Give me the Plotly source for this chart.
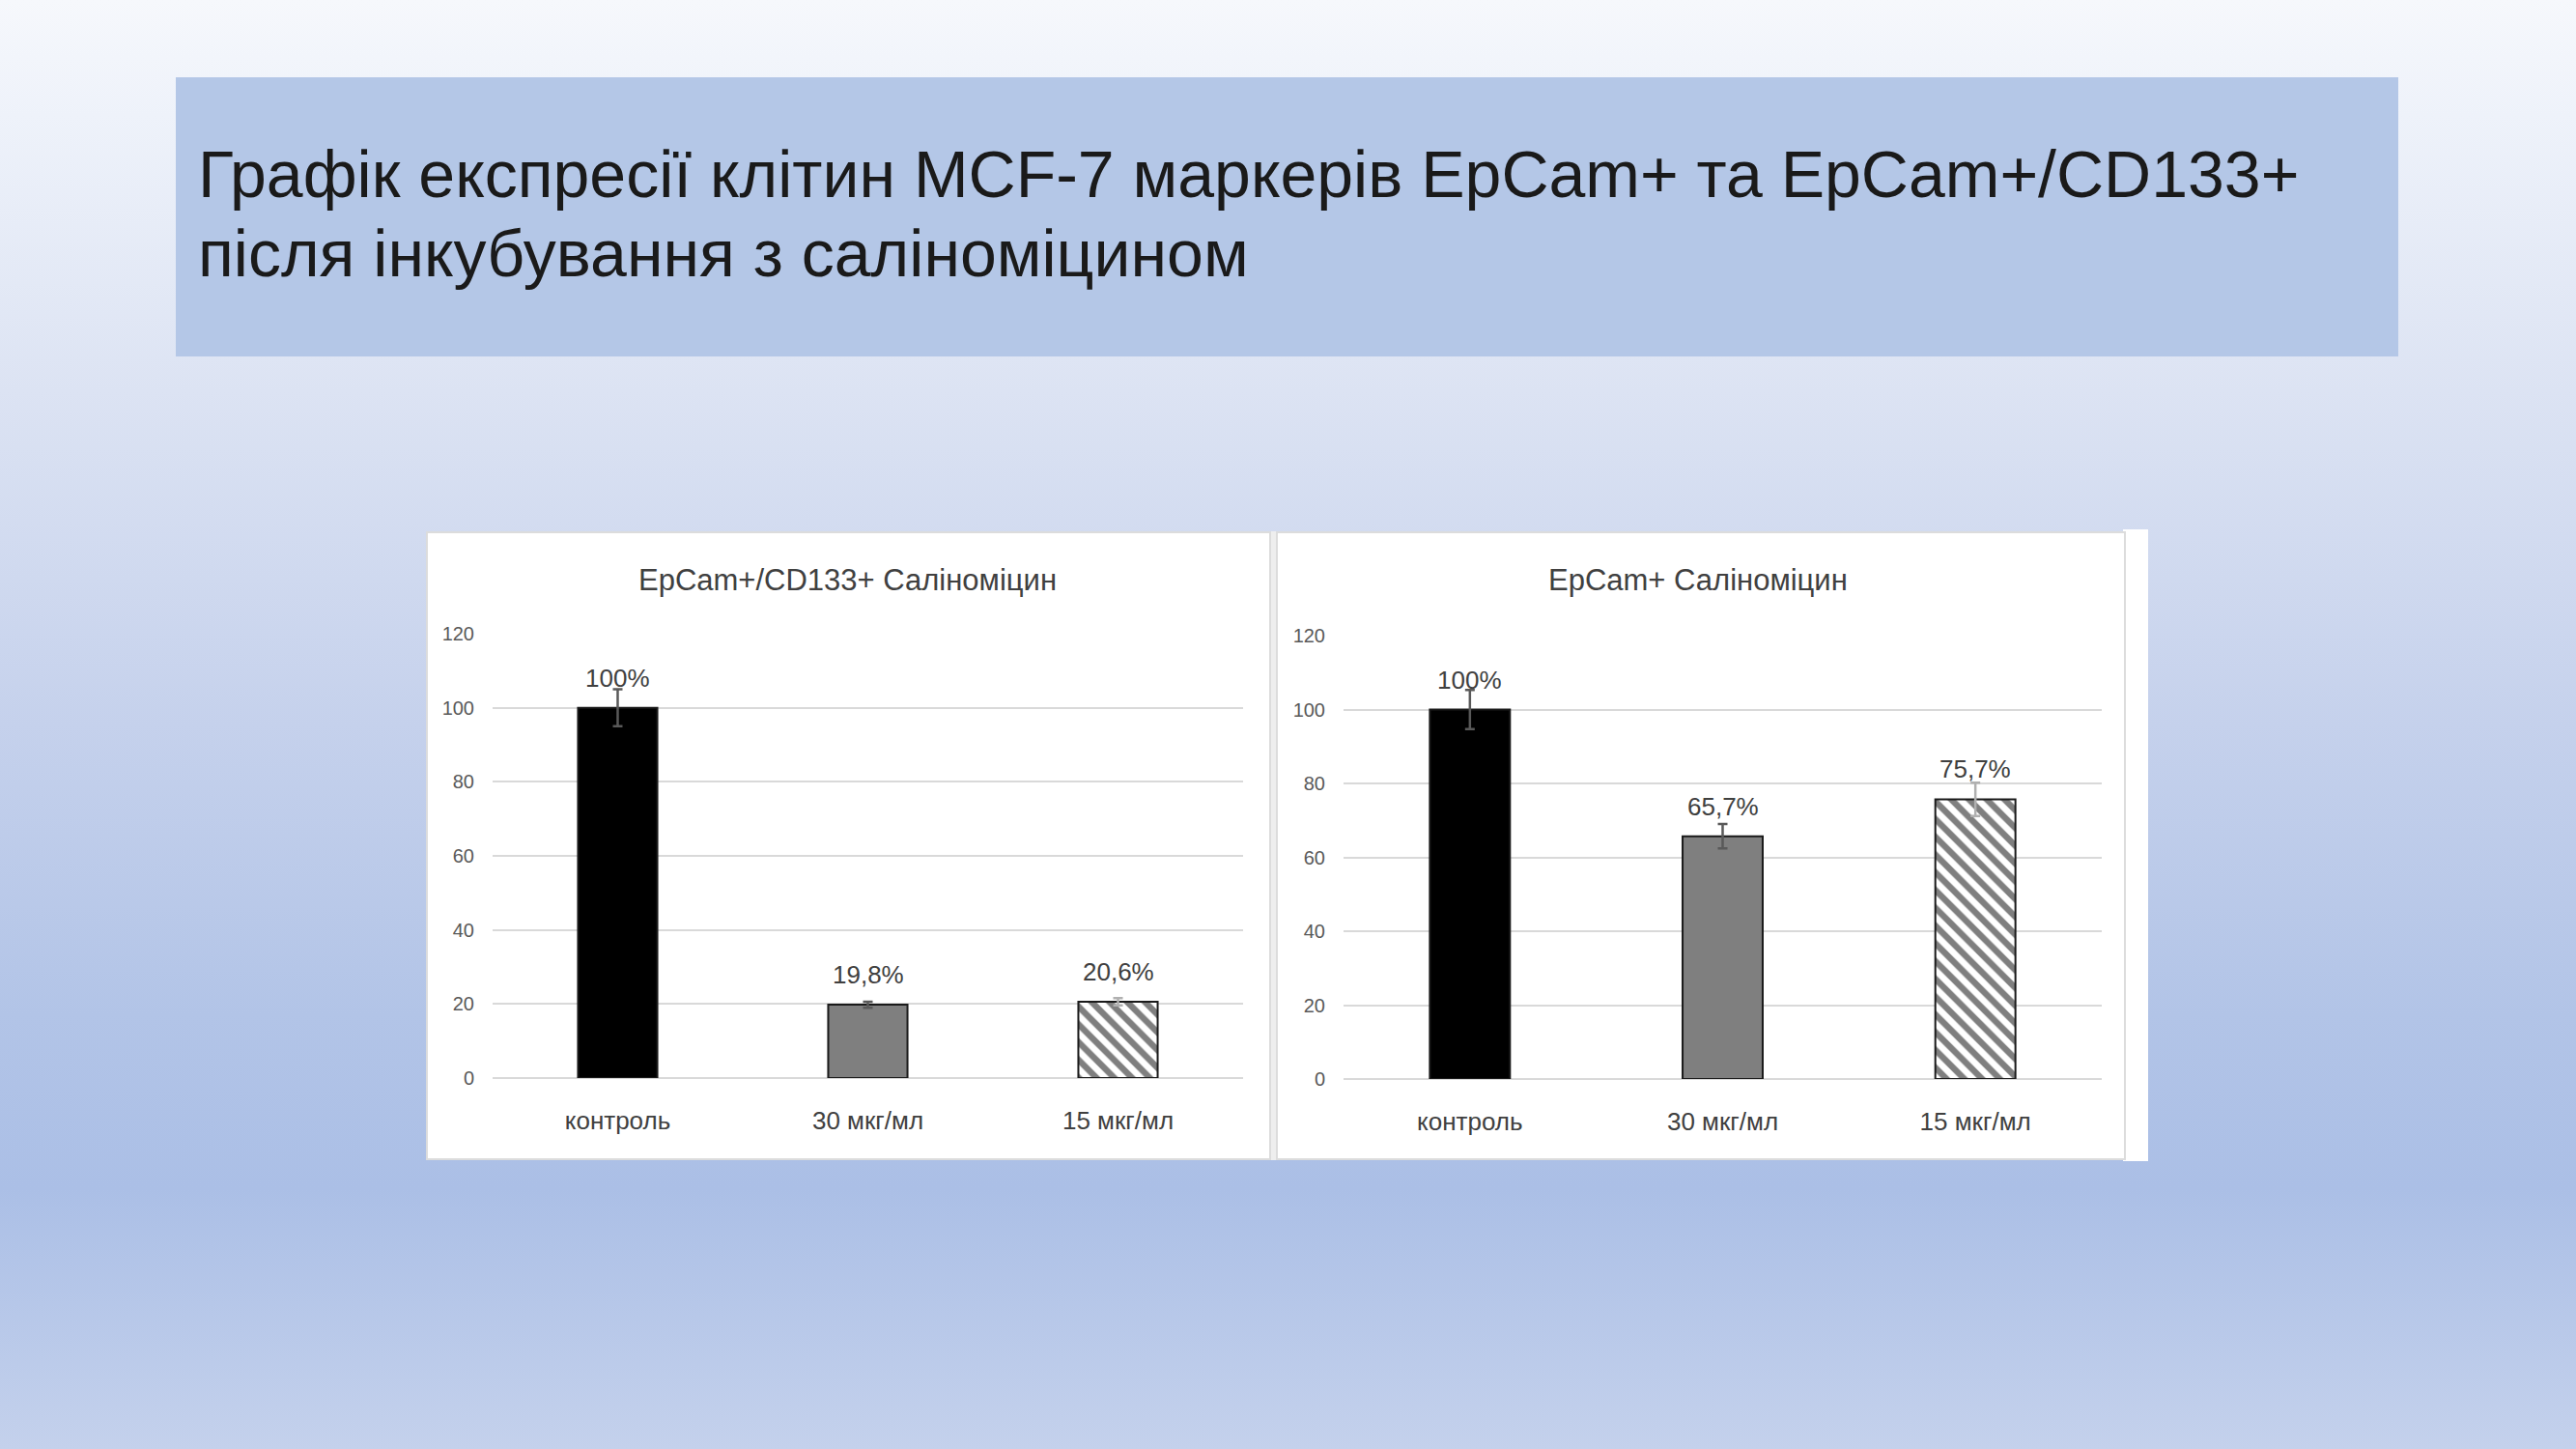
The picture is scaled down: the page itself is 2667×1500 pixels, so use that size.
from urllib.parse import quote

import plotly.graph_objects as go

# дані з графіків
categories = ["контроль", "30 мкг/мл", "15 мкг/мл"]
epcam_cd133_values = [100, 19.8, 20.6]
epcam_cd133_errors = [5.0, 0.8, 1.0]
epcam_cd133_labels = ["100%", "19,8%", "20,6%"]
epcam_values = [100, 65.7, 75.7]
epcam_errors = [5.3, 3.3, 4.5]
epcam_labels = ["100%", "65,7%", "75,7%"]
y_ticks = [0, 20, 40, 60, 80, 100, 120]

W, H = 2667, 1500
FONT = "Liberation Sans, Arial, sans-serif"


def px(x):
    return x / W


def py(y):
    return 1 - y / H


bar_fill = ["#000000", "#7f7f7f", "#ffffff"]
bar_shape = ["", "", "\\"]
err_color = ["#595959", "#595959", "#b0b0b0"]

fig = go.Figure()


def add_chart(values, errors, labels, xa, ya):
    for i in range(len(categories)):
        fig.add_trace(go.Bar(
            x=[categories[i]], y=[values[i]], xaxis=xa, yaxis=ya,
            width=0.317,
            marker=dict(color=bar_fill[i],
                        line=dict(color="#1a1a1a", width=2),
                        pattern=dict(shape=bar_shape[i], fgcolor="#000000",
                                     bgcolor=bar_fill[i], size=13, solidity=0.5)),
            error_y=dict(type="data", array=[errors[i]], color=err_color[i],
                         thickness=2.5, width=5),
            showlegend=False, hoverinfo="skip"))
        fig.add_annotation(x=categories[i], y=values[i], xref=xa, yref=ya,
                           text=labels[i], showarrow=False, yanchor="middle",
                           yshift=31, font=dict(family=FONT, size=26, color="#404040"))


add_chart(epcam_cd133_values, epcam_cd133_errors, epcam_cd133_labels, "x", "y")
add_chart(epcam_values, epcam_errors, epcam_labels, "x2", "y2")

xaxis_style = dict(type="category", range=[-0.5, 2.5], showgrid=False, zeroline=False,
                   showline=False, ticks="", ticklabelstandoff=26, automargin=False,
                   tickfont=dict(family=FONT, size=26, color="#404040"))
yaxis_style = dict(range=[0, 120], tickvals=y_ticks, showgrid=True, gridcolor="#d9d9d9",
                   gridwidth=2, zeroline=True, zerolinecolor="#d9d9d9", zerolinewidth=2,
                   showline=False, ticks="", ticklabelstandoff=18, automargin=False,
                   tickfont=dict(family=FONT, size=20, color="#595959"))

# фон слайда — вертикальний градієнт (svg, вбудований у сторінку)
stops = [(0.0, "rgb(246,248,252)"), (0.08, "rgb(238,242,250)"), (0.27, "rgb(220,227,243)"),
         (0.5, "rgb(197,209,236)"), (0.7, "rgb(178,196,231)"), (0.82, "rgb(171,191,230)"),
         (1.0, "rgb(196,209,236)")]
svg = ('<svg xmlns="http://www.w3.org/2000/svg" width="10" height="100" '
       'viewBox="0 0 10 100" preserveAspectRatio="none"><defs>'
       '<linearGradient id="g" x1="0" y1="0" x2="0" y2="1">'
       + "".join('<stop offset="%g" stop-color="%s"/>' % s for s in stops)
       + '</linearGradient></defs><rect width="10" height="100" fill="url(#g)"/></svg>')

fig.update_layout(
    width=W, height=H, margin=dict(l=0, r=0, t=0, b=0, autoexpand=False),
    paper_bgcolor="#f6f8fc", plot_bgcolor="rgba(0,0,0,0)",
    barmode="overlay",
    xaxis=dict(domain=[px(510), px(1287)], anchor="y", **xaxis_style),
    yaxis=dict(domain=[py(1116), py(656)], anchor="x", **yaxis_style),
    xaxis2=dict(domain=[px(1391), px(2176)], anchor="y2", **xaxis_style),
    yaxis2=dict(domain=[py(1117), py(658)], anchor="x2", **yaxis_style),
    images=[dict(source="data:image/svg+xml;charset=utf-8," + quote(svg),
                 xref="paper", yref="paper", x=0, y=1, sizex=1, sizey=1,
                 xanchor="left", yanchor="top", sizing="stretch", layer="below")],
)

# блок заголовка
fig.add_shape(type="rect", xref="paper", yref="paper", layer="below",
              x0=px(182), x1=px(2483), y0=py(369), y1=py(80),
              fillcolor="#b4c7e7", line_width=0)

# панелі діаграм
fig.add_shape(type="rect", xref="paper", yref="paper", layer="below",
              x0=px(1315), x1=px(1322), y0=py(1201), y1=py(550),
              fillcolor="#eeeeee", line_width=0)
fig.add_shape(type="rect", xref="paper", yref="paper", layer="below",
              x0=px(2198), x1=px(2224), y0=py(1202), y1=py(548),
              fillcolor="#ffffff", line_width=0)
for x0, x1 in [(442, 1315), (1322, 2200)]:
    fig.add_shape(type="rect", xref="paper", yref="paper", layer="below",
                  x0=px(x0), x1=px(x1), y0=py(1200), y1=py(551),
                  fillcolor="#ffffff", line=dict(color="#dcdcdc", width=2))

# заголовки
fig.add_annotation(xref="paper", yref="paper", x=px(203), y=py(180),
                   xanchor="left", yanchor="middle", showarrow=False,
                   text="Графік експресії клітин MCF-7 маркерів EpCam+ та EpCam+/CD133+",
                   font=dict(family=FONT, size=68, color="#1a1a1a"))
fig.add_annotation(xref="paper", yref="paper", x=px(203), y=py(262),
                   xanchor="left", yanchor="middle", showarrow=False,
                   text="після інкубування з саліноміцином",
                   font=dict(family=FONT, size=68, color="#1a1a1a"))

fig.add_annotation(xref="paper", yref="paper", x=px(878), y=py(600),
                   xanchor="center", yanchor="middle", showarrow=False,
                   text="EpCam+/CD133+ Саліноміцин",
                   font=dict(family=FONT, size=31, color="#404040"))
fig.add_annotation(xref="paper", yref="paper", x=px(1758), y=py(600),
                   xanchor="center", yanchor="middle", showarrow=False,
                   text="EpCam+ Саліноміцин",
                   font=dict(family=FONT, size=31, color="#404040"))

page_fix = """
document.documentElement.style.overflow = 'hidden';
document.body.style.margin = '0';
document.body.style.overflow = 'hidden';
var gd = document.getElementsByClassName('plotly-graph-div')[0];
gd.style.position = 'fixed';
gd.style.top = '0';
gd.style.left = '0';
"""
fig.write_html("out.html", config={"displayModeBar": False}, post_script=page_fix)
